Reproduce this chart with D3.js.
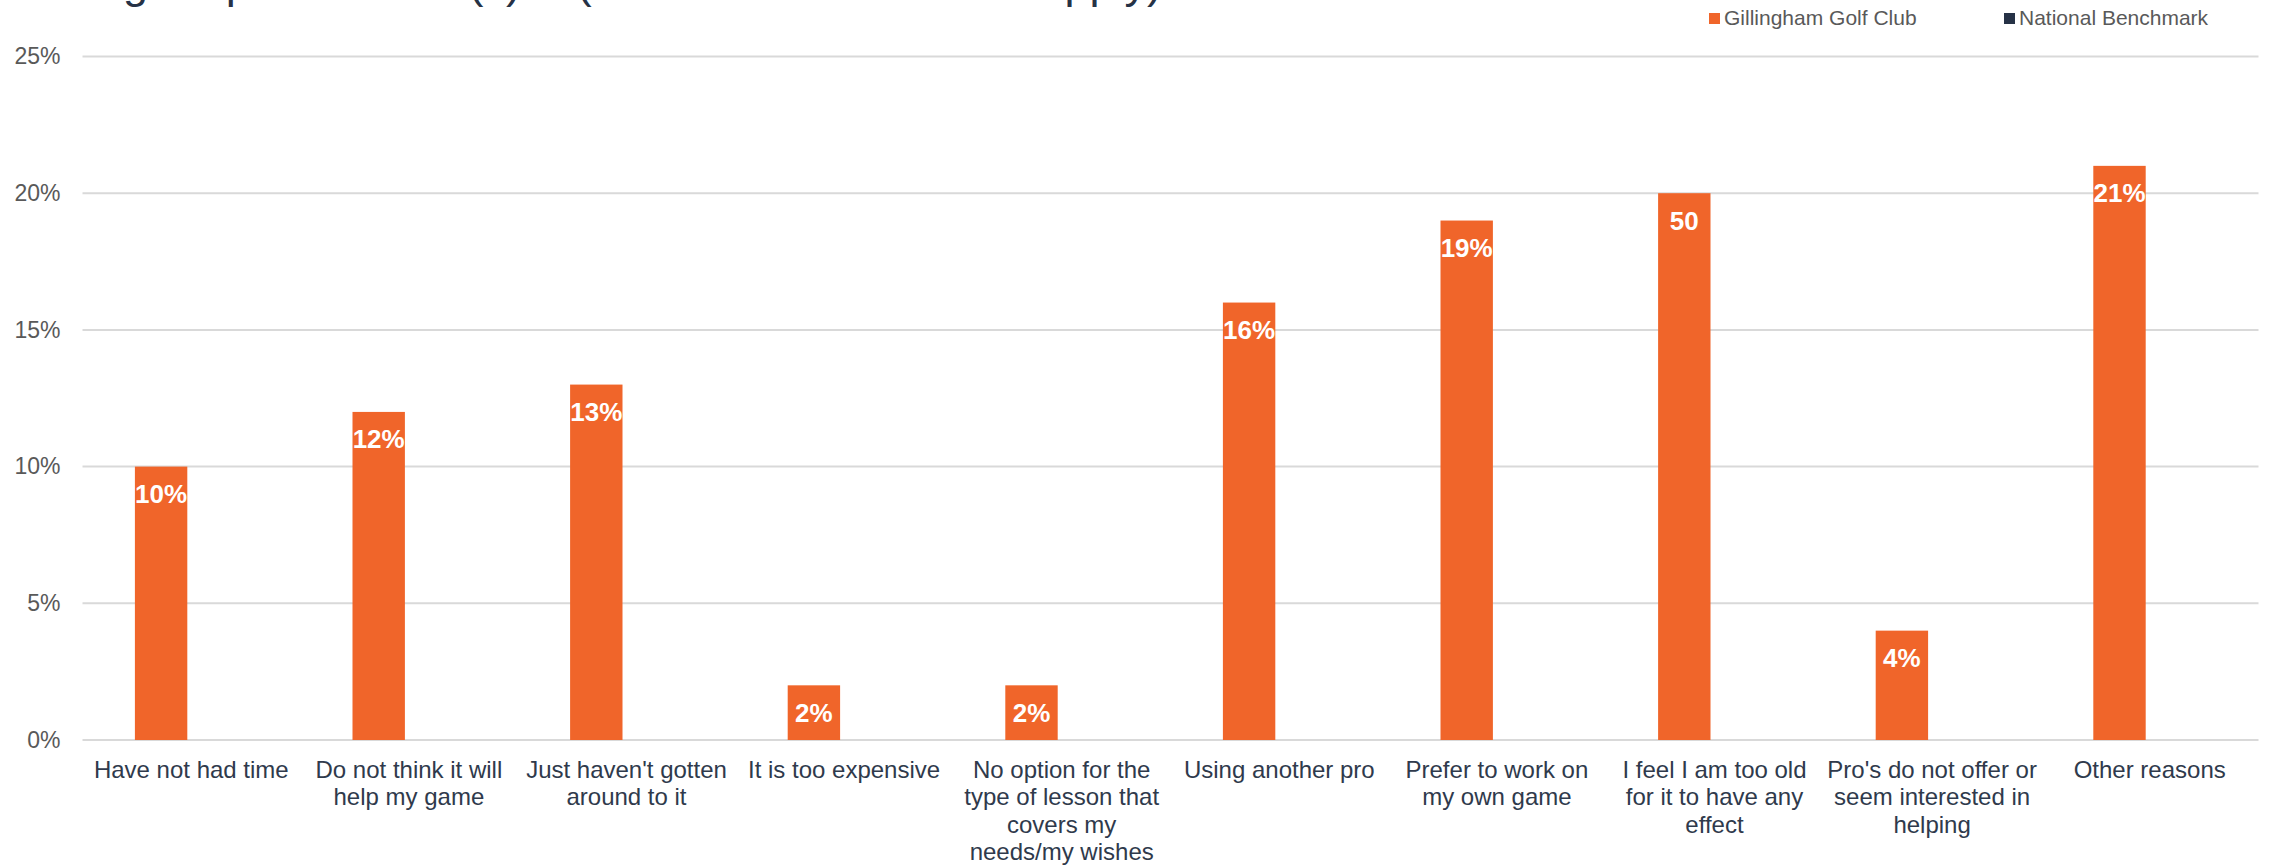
<!DOCTYPE html>
<html>
<head>
<meta charset="utf-8">
<script src="https://cdn.jsdelivr.net/npm/d3@7"></script>
<style>
  html, body { margin: 0; padding: 0; background: #ffffff; }
  svg { display: block; font-family: "Liberation Sans", Arial, sans-serif; }
</style>
</head>
<body>
<svg id="chart" width="2270" height="866"></svg>
<script>
// ---- Data ----
const categories = [
  "Have not had time",
  "Do not think it will help my game",
  "Just haven't gotten around to it",
  "It is too expensive",
  "No option for the type of lesson that covers my needs/my wishes",
  "Using another pro",
  "Prefer to work on my own game",
  "I feel I am too old for it to have any effect",
  "Pro's do not offer or seem interested in helping",
  "Other reasons"
];
const categoryLines = [
  ["Have not had time"],
  ["Do not think it will", "help my game"],
  ["Just haven't gotten", "around to it"],
  ["It is too expensive"],
  ["No option for the", "type of lesson that", "covers my", "needs/my wishes"],
  ["Using another pro"],
  ["Prefer to work on", "my own game"],
  ["I feel I am too old", "for it to have any", "effect"],
  ["Pro's do not offer or", "seem interested in", "helping"],
  ["Other reasons"]
];
const seriesNames = ["Gillingham Golf Club", "National Benchmark"];
const clubValues = [10, 12, 13, 2, 2, 16, 19, 20, 4, 21];
const benchmarkValues = [null, null, null, null, null, null, null, null, null, null];
const clubLabels = ["10%", "12%", "13%", "2%", "2%", "16%", "19%", "50", "4%", "21%"];
const yTicks = [0, 5, 10, 15, 20, 25];
const yTickLabels = ["0%", "5%", "10%", "15%", "20%", "25%"];
const titleParts = ["Reasons for not using", "a professional(s)", "(select all reasons that apply)"];

// ---- Style / layout ----
const colors = { club: "#F0652A", bench: "#263246", grid: "#d9d9d9", tick: "#595959", cat: "#2f3a4c", title: "#263246" };
const plot = { left: 82.5, right: 2258.5, top: 56.5, bottom: 740 };

const svg = d3.select("#chart");

const x0 = d3.scaleBand().domain(categories).range([plot.left, plot.right]).padding(0);
const x1 = d3.scaleBand().domain(seriesNames).range([0, x0.bandwidth() - 8]).paddingInner(0).paddingOuter(1.0);
const y = d3.scaleLinear().domain([0, 25]).range([plot.bottom, plot.top]);

// Title (clipped at the top of the frame, as in the reference)
const titleEnds = [148, 521, 1162];
titleParts.forEach((t, i) => {
  svg.append("text")
    .attr("x", titleEnds[i])
    .attr("y", -2)
    .attr("text-anchor", "end")
    .attr("fill", colors.title)
    .style("font-size", "45px")
    .text(t);
});

// Gridlines
svg.append("g")
  .selectAll("line")
  .data(yTicks)
  .join("line")
  .attr("x1", plot.left)
  .attr("x2", plot.right)
  .attr("y1", d => y(d))
  .attr("y2", d => y(d))
  .attr("stroke", colors.grid)
  .attr("stroke-width", 2);

// Y axis labels
const yAxis = d3.axisLeft(y).tickValues(yTicks).tickFormat((d, i) => yTickLabels[i]).tickSize(0).tickPadding(0);
const yg = svg.append("g").attr("transform", `translate(${plot.left - 22},0)`).call(yAxis);
yg.select(".domain").remove();
yg.selectAll("text")
  .attr("fill", colors.tick)
  .style("font-size", "23px")
  .style("font-family", "'Liberation Sans', Arial, sans-serif");

// Bars
const groups = svg.append("g")
  .selectAll("g")
  .data(categories)
  .join("g")
  .attr("transform", d => `translate(${x0(d)},0)`);

groups.append("rect")
  .attr("x", x1(seriesNames[0]))
  .attr("width", x1.bandwidth())
  .attr("y", (d, i) => y(clubValues[i]))
  .attr("height", (d, i) => y(0) - y(clubValues[i]))
  .attr("fill", colors.club);

groups.filter((d, i) => benchmarkValues[i] != null)
  .append("rect")
  .attr("x", x1(seriesNames[1]))
  .attr("width", x1.bandwidth())
  .attr("y", (d, i) => y(benchmarkValues[i] || 0))
  .attr("height", (d, i) => y(0) - y(benchmarkValues[i] || 0))
  .attr("fill", colors.bench);

// Value labels
groups.append("text")
  .attr("x", x1(seriesNames[0]) + x1.bandwidth() / 2)
  .attr("y", (d, i) => y(clubValues[i]) + 36.5)
  .attr("text-anchor", "middle")
  .attr("fill", "#ffffff")
  .style("font-size", "26px")
  .style("font-weight", "bold")
  .text((d, i) => clubLabels[i]);

// Category labels
groups.append("text")
  .attr("text-anchor", "middle")
  .attr("fill", colors.cat)
  .style("font-size", "24px")
  .each(function(d, i) {
    const t = d3.select(this);
    categoryLines[i].forEach((line, j) => {
      t.append("tspan")
        .attr("x", x0.bandwidth() / 2)
        .attr("y", 778 + j * 27.3)
        .text(line);
    });
  });

// Legend
const legendItems = [
  { name: seriesNames[0], color: colors.club, x: 1709 },
  { name: seriesNames[1], color: colors.bench, x: 2004 }
];
const lg = svg.append("g").selectAll("g").data(legendItems).join("g")
  .attr("transform", d => `translate(${d.x},0)`);
lg.append("rect").attr("x", 0).attr("y", 13).attr("width", 11).attr("height", 11).attr("fill", d => d.color);
lg.append("text").attr("x", 15).attr("y", 25).attr("fill", colors.tick).style("font-size", "21px").text(d => d.name);
</script>
</body>
</html>
